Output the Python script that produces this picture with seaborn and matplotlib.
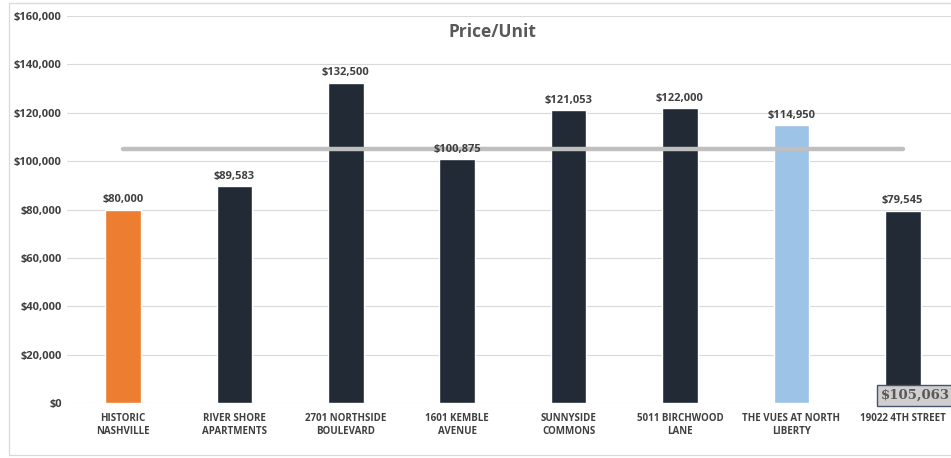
import pandas as pd
import matplotlib.pyplot as plt
import seaborn as sns
from matplotlib.patches import Rectangle

# === Data ===
properties = ["HISTORIC\nNASHVILLE", "RIVER SHORE\nAPARTMENTS", "2701 NORTHSIDE\nBOULEVARD",
              "1601 KEMBLE\nAVENUE", "SUNNYSIDE\nCOMMONS", "5011 BIRCHWOOD\nLANE",
              "THE VUES AT NORTH\nLIBERTY", "19022 4TH STREET"]
price_per_unit = [80000, 89583, 132500, 100875, 121053, 122000, 114950, 79545]
average_price = 105063
bar_colors = ["#ED7D31", "#222A35", "#222A35", "#222A35", "#222A35", "#222A35", "#9DC3E6", "#222A35"]

df = pd.DataFrame({"property": properties, "price": price_per_unit})

# === Style ===
sns.set_theme(style="white")
plt.rcParams["font.family"] = ["Open Sans", "DejaVu Sans"]

fig = plt.figure(figsize=(9.51, 4.58), dpi=100)
ax = fig.add_axes([0.0708, 0.120, 0.937, 0.845])

sns.barplot(data=df, x="property", y="price", hue="property", palette=bar_colors,
            width=0.32, legend=False, ax=ax, saturation=1)

for cont in ax.containers:
    ax.bar_label(cont, labels=[f"${v:,.0f}" for v in cont.datavalues], padding=3,
                 fontsize=8, fontweight="bold", color="#404040")

# average line
ax.plot([0, len(properties) - 1], [average_price, average_price], color="#BFBFBF", lw=3.2, zorder=1)

ax.text(len(properties) - 1 + 0.11, 3300, f"${average_price:,}", ha="center", va="center",
        fontsize=9.5, fontweight="bold", color="#595959", family="DejaVu Serif",
        bbox=dict(boxstyle="square,pad=0.3", fc="#D0CECE", ec="#44546A", lw=1), zorder=5)

ax.set_ylim(0, 160000)
ax.set_xlim(-0.5, len(properties) - 0.5)
ax.set_yticks(range(0, 160001, 20000))
ax.set_yticklabels([f"${v:,}" for v in range(0, 160001, 20000)], fontsize=8,
                   fontweight="bold", color="#404040")
ax.set_xticks(range(len(properties)))
ax.set_xticklabels(properties, fontsize=7, fontweight="bold", color="#404040", linespacing=1.25)
ax.tick_params(axis="both", length=0, pad=4)
ax.tick_params(axis="x", pad=7)
ax.yaxis.grid(True, color="#D9D9D9", lw=0.8)
ax.set_axisbelow(True)
ax.set_xlabel("")
ax.set_ylabel("")
sns.despine(left=True, top=True, right=True, bottom=True)

fig.text(0.518, 0.930, "Price/Unit", ha="center", va="center", fontsize=12.5,
         fontweight="bold", color="#595959")

# chart frame
fig.patches.append(Rectangle((0.009, 0.006), 1.2, 0.987, transform=fig.transFigure,
                             fill=False, ec="#D9D9D9", lw=0.9))

plt.savefig("out.png", dpi=100)
plt.close()
